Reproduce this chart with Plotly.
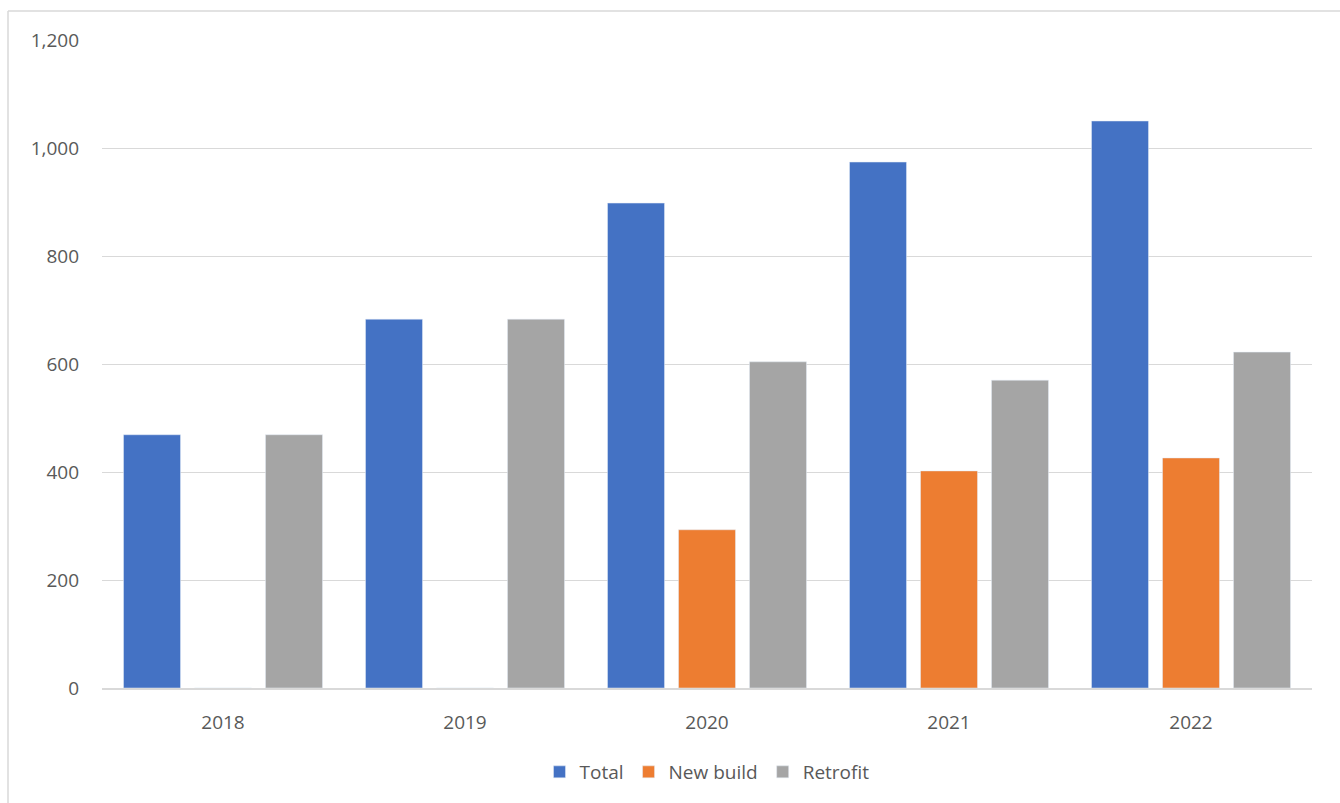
import plotly.graph_objects as go

years = ["2018", "2019", "2020", "2021", "2022"]
total = [469, 683, 898, 974, 1050]
new_build = [0, 0, 293, 402, 426]
retrofit = [469, 683, 604, 570, 622]

y_ticks = [0, 200, 400, 600, 800, 1000, 1200]
y_tick_text = ["0", "200", "400", "600", "800", "1,000", "1,200"]

FONT = "Open Sans"
TEXT = "#595959"
GRID = "#D9D9D9"
FS = 19

fig = go.Figure()
fig.add_trace(go.Bar(name="Total", x=years, y=total, marker_color="#4472C4"))
fig.add_trace(go.Bar(name="New build", x=years, y=new_build, marker_color="#ED7D31"))
fig.add_trace(go.Bar(name="Retrofit", x=years, y=retrofit, marker_color="#A5A5A5"))

W, H = 1340, 803
L, R, T, B = 102, 28, 40, 115
pw, ph = W - L - R, H - T - B

def px_x(p):
    return (p - L) / pw

def px_y(p):
    return (H - B - p) / ph

fig.update_layout(
    width=W, height=H,
    margin=dict(l=L, r=R, t=T, b=B, pad=0),
    paper_bgcolor="white", plot_bgcolor="white",
    barmode="group", bargap=0.12, bargroupgap=0.197,
    font=dict(family=FONT, size=FS, color=TEXT),
    legend=dict(orientation="h", x=0.5, xanchor="center", y=px_y(772), yanchor="middle",
                font=dict(size=FS, color=TEXT), itemwidth=30, traceorder="normal"),
    xaxis=dict(showgrid=False, showline=True, linecolor=GRID, linewidth=2,
               ticks="", ticklabelstandoff=16, tickfont=dict(size=FS, color=TEXT)),
    yaxis=dict(range=[0, 1200], tickvals=y_ticks, ticktext=y_tick_text,
               showgrid=True, gridcolor=GRID, gridwidth=1, zeroline=False,
               showline=False, ticks="", ticklabelstandoff=22,
               tickfont=dict(size=FS, color=TEXT)),
    shapes=[
        dict(type="line", xref="paper", yref="paper",
             x0=px_x(8), x1=px_x(W + 5), y0=px_y(11), y1=px_y(11),
             line=dict(color=GRID, width=1.5)),
        dict(type="line", xref="paper", yref="paper",
             x0=px_x(8), x1=px_x(8), y0=px_y(11), y1=px_y(H + 5),
             line=dict(color=GRID, width=1.5)),
    ],
)

fig.write_html("out.html")
